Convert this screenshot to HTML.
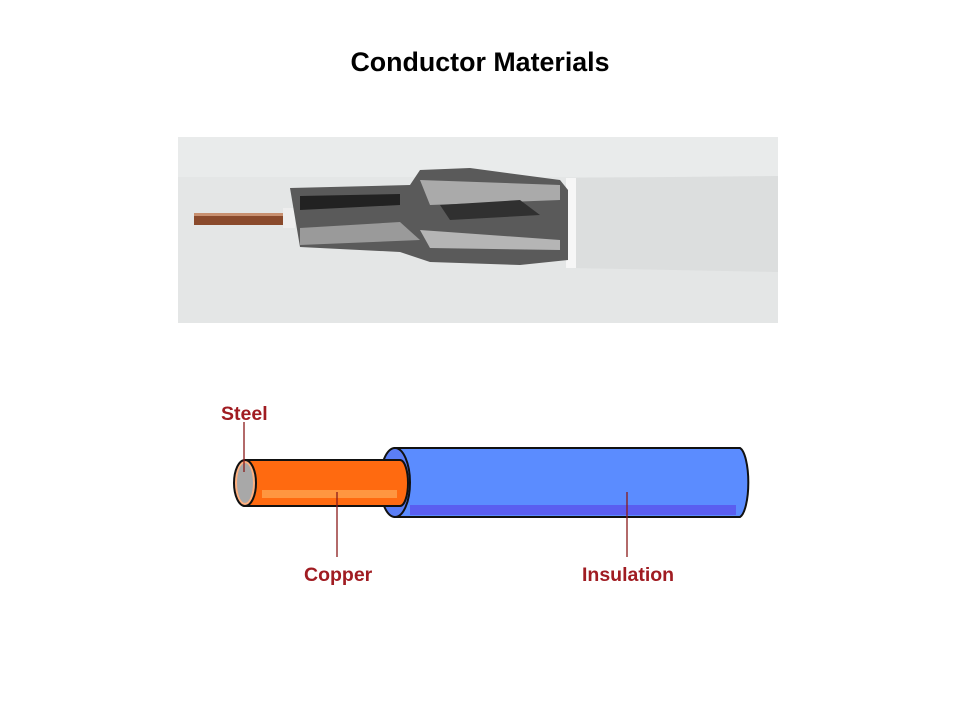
<!DOCTYPE html>
<html><head><style>body{margin:0;background:#fff;width:960px;height:720px;overflow:hidden}</style></head>
<body>
<svg width="960" height="720" xmlns="http://www.w3.org/2000/svg">
<text x="480" y="71" text-anchor="middle" font-family="Liberation Sans, sans-serif" font-weight="bold" font-size="26.8" fill="#000">Conductor Materials</text>
<rect x="178" y="137" width="600" height="186" fill="#e4e6e6"/>
<rect x="178" y="137" width="600" height="40" fill="#e9ebeb"/>
<path d="M570 178 L778 176 L778 272 L570 268 Z" fill="#dcdede"/>
<rect x="566" y="178" width="10" height="90" fill="#f6f6f6"/>
<rect x="194" y="213" width="90" height="12" fill="#8a4a2c"/>
<rect x="194" y="213" width="90" height="3" fill="#c89070"/>
<rect x="283" y="208" width="12" height="20" fill="#eeeeee"/>
<path d="M290 188 L410 185 L420 170 L470 168 L560 180 L568 190 L568 260 L520 265 L430 262 L400 252 L300 247 Z" fill="#5a5a5a"/>
<path d="M300 196 L400 194 L400 205 L300 210 Z" fill="#222"/>
<path d="M300 228 L400 222 L420 240 L300 245 Z" fill="#9a9a9a"/>
<path d="M420 180 L560 185 L560 200 L430 205 Z" fill="#aaa"/>
<path d="M420 230 L560 240 L560 250 L430 248 Z" fill="#b5b5b5"/>
<path d="M440 205 L520 200 L540 215 L450 220 Z" fill="#303030"/>
<g stroke="#111" stroke-width="2">
<path d="M395 448 L740 448 A10 35 0 0 1 740 517 L395 517 Z" fill="#5b8cff"/>
<rect x="410" y="505" width="326" height="10" fill="#5a5ef0" stroke="none"/>
<ellipse cx="395" cy="482.5" rx="15" ry="34.5" fill="#5b7ef5"/>
<path d="M245 460 L400 460 A8 23 0 0 1 400 506 L245 506 Z" fill="#ff6a10"/>
<rect x="262" y="490" width="135" height="8" fill="#ff9640" stroke="none"/>
<ellipse cx="245" cy="483" rx="11" ry="23" fill="#ffb080"/>
<ellipse cx="245" cy="483" rx="8" ry="20" fill="#a8a8a8" stroke="none"/>
</g>
<g stroke="#8a1a1a" stroke-width="1.3">
<line x1="244" y1="422" x2="244" y2="472"/>
<line x1="337" y1="492" x2="337" y2="557"/>
<line x1="627" y1="492" x2="627" y2="557"/>
</g>
<g font-family="Liberation Sans, sans-serif" font-weight="bold" font-size="19.5" fill="#a01c22">
<text x="221" y="420">Steel</text>
<text x="304" y="581">Copper</text>
<text x="582" y="581">Insulation</text>
</g>
</svg>
</body></html>
